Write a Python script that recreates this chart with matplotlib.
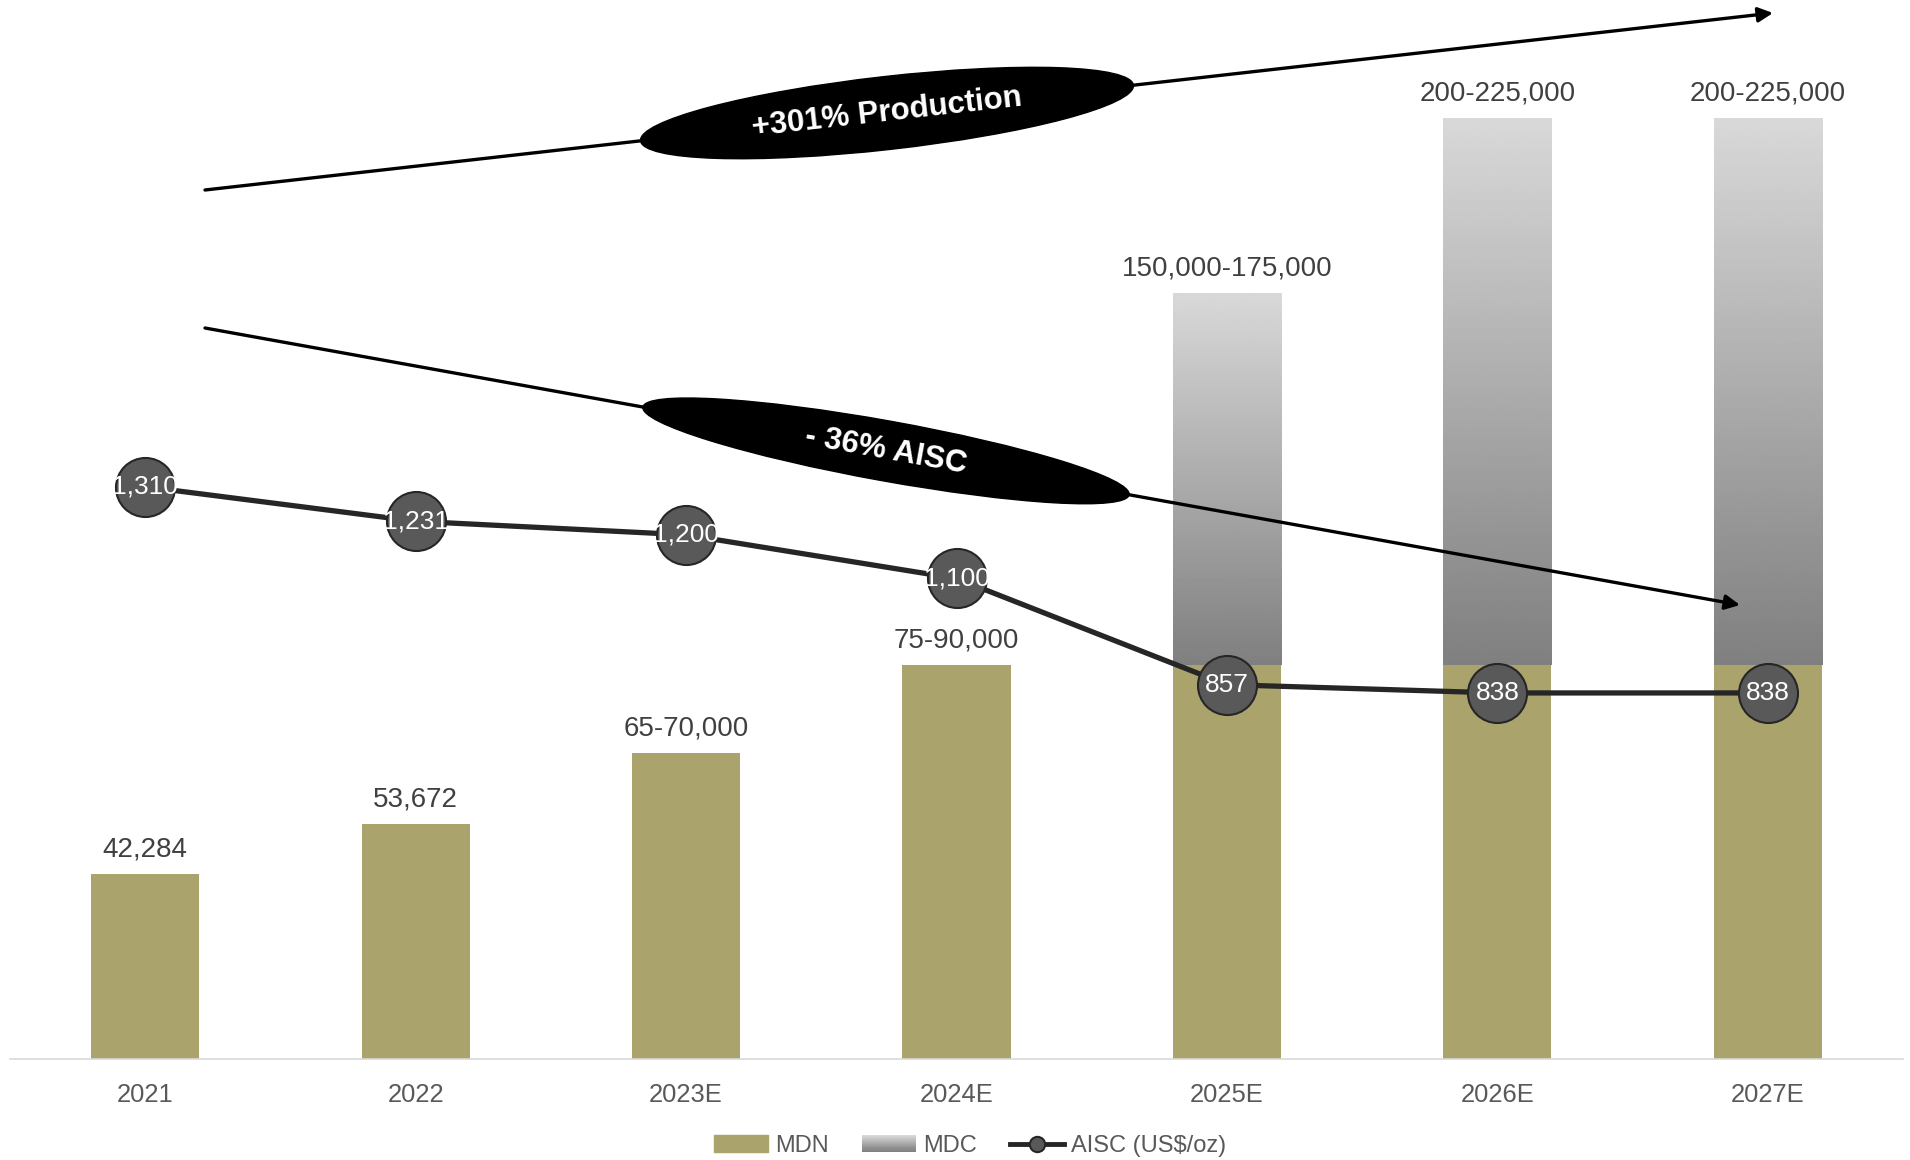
import numpy as np
import matplotlib
matplotlib.use('Agg')
import matplotlib.pyplot as plt
from matplotlib.patches import Ellipse, FancyArrowPatch, Rectangle, Patch
from matplotlib.lines import Line2D
from matplotlib.legend_handler import HandlerBase

plt.rcParams['font.family'] = ['Liberation Sans', 'DejaVu Sans']

years = ['2021', '2022', '2023E', '2024E', '2025E', '2026E', '2027E']
mdn = [42284, 53672, 70000, 90000, 90000, 90000, 90000]
mdc = [0, 0, 0, 0, 85000, 125000, 125000]
prod_labels = ['42,284', '53,672', '65-70,000', '75-90,000',
               '150,000-175,000', '200-225,000', '200-225,000']
aisc = [1310, 1231, 1200, 1100, 857, 838, 838]

GOLD = '#aba36c'
LINE = '#262626'
MARK = '#595959'
TXT = '#404040'

W, H = 1910, 1160
fig = plt.figure(figsize=(W / 100, H / 100), dpi=100)
ax = fig.add_axes([10 / W, 101 / H, 1893 / W, 1059 / H])
ax2 = ax.twinx()

x = np.arange(len(years))
bw = 0.40
ymax = 241950
ax.set_xlim(-0.5, len(years) - 0.5)
ax.set_ylim(0, ymax)
ax2.set_ylim(0, ymax / 99.8)

ax.bar(x, mdn, width=bw, color=GOLD, zorder=2)

# MDC on top of MDN, grey gradient fading from light (top) to dark (bottom)
grad = np.linspace(0.85, 0.50, 256)[:, None]
for xi, base, h in zip(x, mdn, mdc):
    if h <= 0:
        continue
    rect = ax.bar(xi, h, bottom=base, width=bw, color='none', zorder=2)[0]
    im = ax.imshow(grad, cmap='gray', vmin=0, vmax=1, aspect='auto',
                   extent=[xi - bw / 2, xi + bw / 2, base, base + h],
                   origin='upper', zorder=2, interpolation='bilinear')
    im.set_clip_path(rect)
ax.set_xlim(-0.5, len(years) - 0.5)
ax.set_ylim(0, ymax)

for xi, top, lab in zip(x, np.add(mdn, mdc), prod_labels):
    ax.annotate(lab, (xi, top), xytext=(0, 8), textcoords='offset points',
                ha='center', va='bottom', fontsize=20, color=TXT)

ax2.plot(x, aisc, color=LINE, lw=3.8, marker='o', markersize=42.5,
         markerfacecolor=MARK, markeredgecolor=LINE, markeredgewidth=1.5,
         zorder=3)
for xi, v in zip(x, aisc):
    ax2.text(xi, v, '{:,}'.format(v), ha='center', va='center',
             fontsize=19, color='white', zorder=4)

for a in (ax, ax2):
    for s in ('top', 'right', 'left'):
        a.spines[s].set_visible(False)
    a.set_yticks([])
ax2.spines['bottom'].set_visible(False)
ax.spines['bottom'].set_color('#d9d9d9')
ax.spines['bottom'].set_linewidth(1.2)
ax.set_xticks(x)
ax.set_xticklabels(years)
ax.tick_params(axis='x', length=0, pad=17, labelsize=18.4, labelcolor=MARK)

# annotation layer in pixel units (y down)
ov = fig.add_axes([0, 0, 1, 1], zorder=5)
ov.set_xlim(0, W)
ov.set_ylim(H, 0)
ov.axis('off')
ov.patch.set_alpha(0)


def trend(p0, p1, cx, ew, eh, text):
    ov.add_patch(FancyArrowPatch(p0, p1, arrowstyle='-|>', mutation_scale=22,
                                 lw=2.4, color='black', shrinkA=0, shrinkB=0))
    t = (cx - p0[0]) / (p1[0] - p0[0])
    cy = p0[1] + t * (p1[1] - p0[1])
    ang = np.degrees(np.arctan2(p0[1] - p1[1], p1[0] - p0[0]))
    ov.add_patch(Ellipse((cx, cy), ew, eh, angle=-ang, color='black'))
    ov.text(cx, cy, text, rotation=ang, rotation_mode='anchor',
            ha='center', va='center', fontsize=22.5, fontweight='bold',
            color='white')


trend((205, 190), (1773, 13), 887, 496, 73, '+301% Production')
trend((205, 328), (1740, 605), 886, 494, 60, '- 36% AISC')


class GradientHandler(HandlerBase):
    def create_artists(self, legend, orig_handle, xdescent, ydescent,
                       width, height, fontsize, trans):
        n = 16
        out = []
        for i in range(n):
            g = 0.85 - 0.35 * i / (n - 1)
            out.append(Rectangle((-xdescent, -ydescent + height * (1 - (i + 1) / n)),
                                 width, height / n + 0.3, facecolor=str(g),
                                 edgecolor='none', transform=trans))
        return out


h_mdn = Patch(color=GOLD)
h_mdc = Patch(color='0.7')
h_aisc = Line2D([], [], color=LINE, lw=3.5, marker='o', markersize=11,
                markerfacecolor=MARK, markeredgecolor=LINE, markeredgewidth=1.5)
fig.legend([h_mdn, h_mdc, h_aisc], ['MDN', 'MDC', 'AISC (US$/oz)'],
           handler_map={h_mdc: GradientHandler()}, loc='center',
           bbox_to_anchor=(970 / W, 1 - 1146 / H), ncol=3, frameon=False,
           fontsize=17, labelcolor=MARK, handlelength=2.3, handleheight=0.7,
           handletextpad=0.3, columnspacing=1.4)

fig.savefig('out.png', dpi=100)
